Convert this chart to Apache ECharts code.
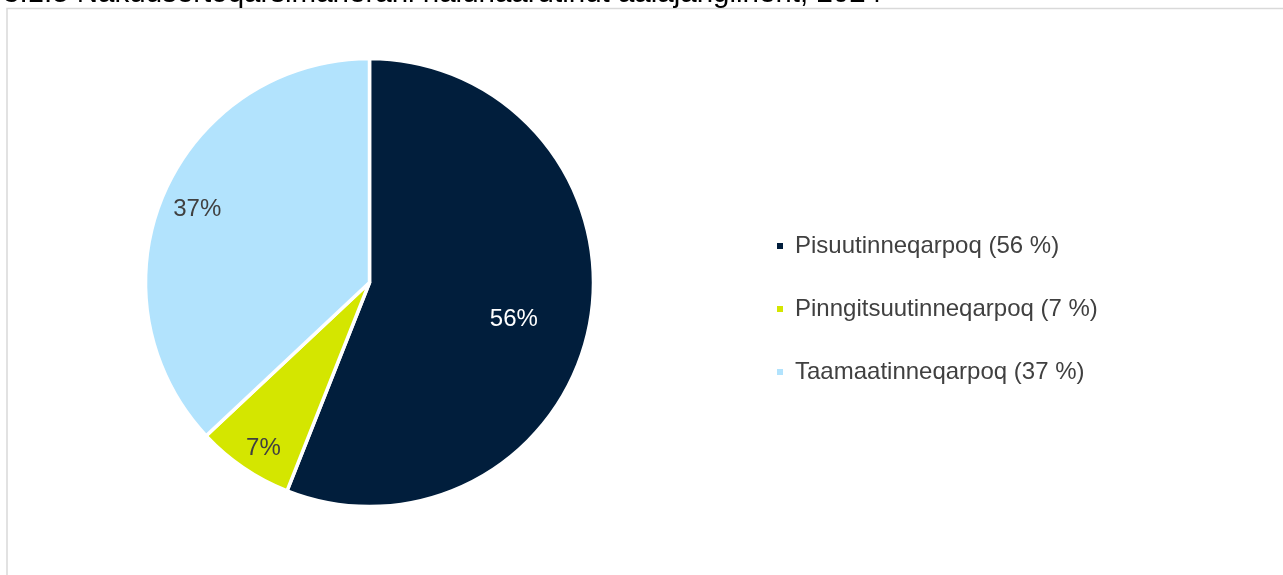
<!DOCTYPE html>
<html>
<head>
<meta charset="utf-8">
<script src="https://cdn.jsdelivr.net/npm/echarts@6/dist/echarts.min.js"></script>
<style>html,body{margin:0;padding:0;background:#fff;}#c{width:1283px;height:575px;}</style>
</head>
<body>
<div id="c"></div>
<script>
const titleText = '3.1.5 Nakuusertoqarsimanerani nalunaarutinut aalajangiinerit, 2024';
const categories = ['Pisuutinneqarpoq', 'Pinngitsuutinneqarpoq', 'Taamaatinneqarpoq'];
const values = [56, 7, 37];
const colors = ['#011E3C', '#D4E600', '#B2E3FD'];
const labelColors = ['#ffffff', '#404040', '#404040'];

const center = [369.5, 282.5];
const mainRadius = 224;
// radius of invisible overlay pies used to place each inside label (label sits at radius/2)
const labelRadius = [297, 391, 377];
const labelPadding = [[0, 9, 0, 0], [0, 0, 0, 11], [0, 0, 0, 7]];
// line height of a two-line label (empty first line) nudges text down by half of it
const labelLineHeight = [16, 4, 6];

const chart = echarts.init(document.getElementById('c'), null, {renderer: 'canvas'});

function baseData(showIdx) {
  return categories.map((name, i) => ({
    name: name,
    value: values[i],
    label: {show: showIdx === i, color: labelColors[i], padding: labelPadding[i], lineHeight: labelLineHeight[i]}
  }));
}

const series = [{
  type: 'pie',
  center: center,
  radius: mainRadius,
  startAngle: 90,
  clockwise: true,
  label: {show: false},
  labelLine: {show: false},
  emphasis: {disabled: true},
  itemStyle: {borderColor: '#ffffff', borderWidth: 3.5},
  data: categories.map((name, i) => ({name: name, value: values[i], itemStyle: {color: colors[i]}}))
}];

categories.forEach((c, i) => {
  series.push({
    type: 'pie',
    center: center,
    radius: labelRadius[i],
    startAngle: 90,
    clockwise: true,
    silent: true,
    legendHoverLink: false,
    z: 3,
    emphasis: {disabled: true},
    itemStyle: {color: 'rgba(0,0,0,0)', borderWidth: 0},
    label: {
      position: 'inside',
      fontFamily: 'Liberation Sans, Arial, sans-serif',
      fontSize: 24,
      formatter: p => '\n' + p.value + '%'
    },
    labelLine: {show: false},
    data: baseData(i)
  });
});

chart.setOption({
  animation: false,
  backgroundColor: '#ffffff',
  color: colors,
  title: {
    text: titleText,
    left: -2,
    top: -26,
    textStyle: {fontFamily: 'Liberation Sans, Arial, sans-serif', fontSize: 29.5, fontWeight: 'normal', color: '#000000'}
  },
  graphic: [{
    type: 'rect',
    z: -1,
    silent: true,
    shape: {x: 7, y: 8.5, width: 1400, height: 700},
    style: {fill: 'none', stroke: '#d9d9d9', lineWidth: 1.5}
  }],
  legend: {
    orient: 'vertical',
    left: 775,
    top: 234,
    padding: 0,
    icon: 'rect',
    itemWidth: 8,
    itemHeight: 8,
    itemGap: 39,
    data: categories,
    formatter: name => name + ' (' + values[categories.indexOf(name)] + ' %)',
    textStyle: {fontFamily: 'Liberation Sans, Arial, sans-serif', fontSize: 24, color: '#404040', padding: [0, 0, 0, 6]}
  },
  series: series
});
</script>
</body>
</html>
